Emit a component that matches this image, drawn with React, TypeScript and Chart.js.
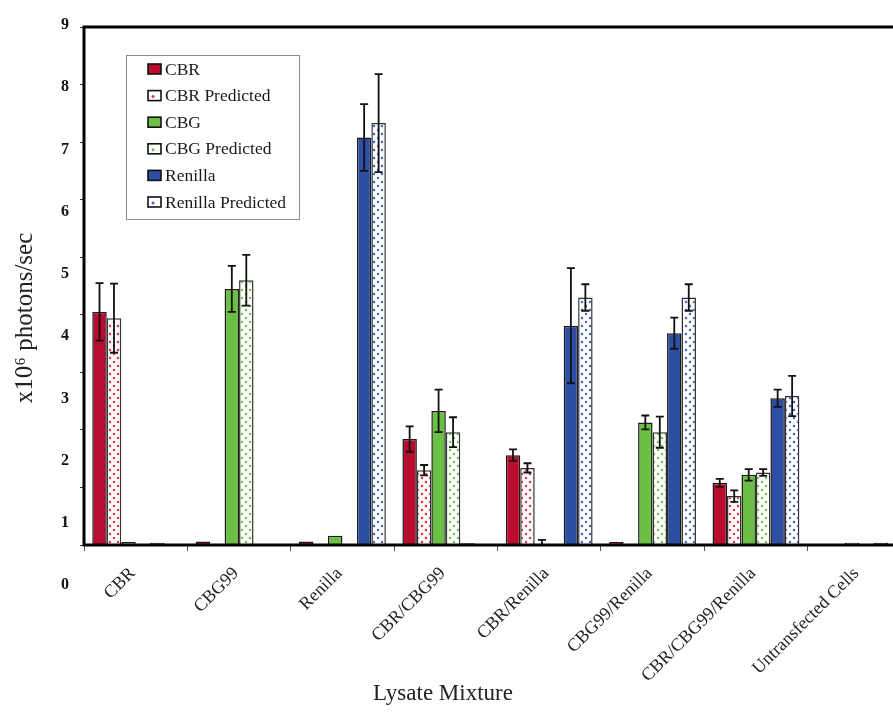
import React, { useEffect, useRef } from 'react';
import { Chart, registerables } from 'chart.js';

Chart.register(...registerables);

const categories = [
  'CBR',
  'CBG99',
  'Renilla',
  'CBR/CBG99',
  'CBR/Renilla',
  'CBG99/Renilla',
  'CBR/CBG99/Renilla',
  'Untransfected Cells',
];

const seriesLabels = ['CBR', 'CBR Predicted', 'CBG', 'CBG Predicted', 'Renilla', 'Renilla Predicted'];

const cbr = [4.05, 0.06, 0.06, 1.84, 1.56, 0.05, 1.08, null];
const cbrErr = [0.5, 0, 0, 0.22, 0.1, 0, 0.07, 0];
const cbrPred = [3.94, null, null, 1.3, 1.34, null, 0.85, null];
const cbrPredErr = [0.6, 0, 0, 0.09, 0.08, 0, 0.1, 0];
const cbg = [0.05, 4.45, 0.16, 2.33, 0.01, 2.13, 1.22, 0.04];
const cbgErr = [0, 0.4, 0, 0.37, 0.08, 0.12, 0.1, 0];
const cbgPred = [null, 4.6, null, 1.96, null, 1.96, 1.26, null];
const cbgPredErr = [0, 0.44, 0, 0.26, 0, 0.27, 0.06, 0];
const renilla = [0.04, null, 7.08, 0.03, 3.81, 3.68, 2.55, 0.04];
const renillaErr = [0, 0, 0.58, 0, 1.0, 0.27, 0.15, 0];
const renillaPred = [null, null, 7.33, null, 4.3, 4.3, 2.59, null];
const renillaPredErr = [0, 0, 0.85, 0, 0.23, 0.23, 0.35, 0];

const yTickLabels = ['0', '1', '2', '3', '4', '5', '6', '7', '8', '9'];

const yTitle = 'x10\u2076 photons/sec';
const xTitle = 'Lysate Mixture';

const RED = '#BA0C2F';
const GREEN = '#6CBF45';
const BLUE = '#2C4FA3';
const RED_DOT = '#E0363F';
const GREEN_DOT = '#6CC74A';
const BLUE_DOT = '#3F6CCB';

const SERIF = '"Liberation Serif", "Times New Roman", serif';

function makePattern(color: string): CanvasPattern | string {
  const c = document.createElement('canvas');
  c.width = 8;
  c.height = 8;
  const g = c.getContext('2d');
  if (!g) return '#fff';
  g.fillStyle = '#ffffff';
  g.fillRect(0, 0, 8, 8);
  g.fillStyle = color;
  g.beginPath();
  g.arc(2, 2, 1.25, 0, Math.PI * 2);
  g.fill();
  g.beginPath();
  g.arc(6, 6, 1.25, 0, Math.PI * 2);
  g.fill();
  const p = g.createPattern(c, 'repeat');
  return p || '#fff';
}

export default function App() {
  const ref = useRef<HTMLCanvasElement | null>(null);

  useEffect(() => {
    const canvas = ref.current;
    if (!canvas) return;

    const values = [cbr, cbrPred, cbg, cbgPred, renilla, renillaPred];
    const errors = [cbrErr, cbrPredErr, cbgErr, cbgPredErr, renillaErr, renillaPredErr];
    const solid = [RED, null, GREEN, null, BLUE, null];
    const dots = [null, RED_DOT, null, GREEN_DOT, null, BLUE_DOT];

    const fills = values.map((_, i) => (solid[i] ? solid[i] : makePattern(dots[i] as string)));

    const custom = {
      id: 'customDraw',
      afterDatasetsDraw(chart: any) {
        const ctx = chart.ctx;
        const ys = chart.scales.y;
        ctx.save();
        ctx.strokeStyle = '#111';
        ctx.lineWidth = 1.8;
        errors.forEach((errArr, di) => {
          const meta = chart.getDatasetMeta(di);
          meta.data.forEach((bar: any, i: number) => {
            const v = values[di][i];
            const e = errArr[i];
            if (v == null || !e) return;
            const x = bar.x;
            const yt = ys.getPixelForValue(v + e);
            const yb = ys.getPixelForValue(Math.max(0, v - e));
            ctx.beginPath();
            ctx.moveTo(x, yt);
            ctx.lineTo(x, yb);
            ctx.moveTo(x - 4, yt);
            ctx.lineTo(x + 4, yt);
            ctx.moveTo(x - 4, yb);
            ctx.lineTo(x + 4, yb);
            ctx.stroke();
          });
        });
        const a = chart.chartArea;
        ctx.strokeStyle = '#000';
        ctx.lineWidth = 3;
        ctx.strokeRect(a.left, a.top, a.right - a.left, a.bottom - a.top);
        ctx.restore();
      },
      afterDraw(chart: any) {
        const ctx = chart.ctx;
        ctx.save();
        // legend
        const lx = 126, ly = 55, lw = 173, lh = 164;
        ctx.fillStyle = '#fff';
        ctx.fillRect(lx, ly, lw, lh);
        ctx.strokeStyle = '#8a8a8a';
        ctx.lineWidth = 1;
        ctx.strokeRect(lx + 0.5, ly + 0.5, lw, lh);
        ctx.font = '17.5px ' + SERIF;
        ctx.textBaseline = 'middle';
        ctx.textAlign = 'left';
        seriesLabels.forEach((lab, i) => {
          const cy = 69 + i * 26.6;
          const bx = 148, bw = 13, bh = 10;
          if (solid[i]) {
            ctx.fillStyle = solid[i] as string;
            ctx.fillRect(bx, cy - bh / 2, bw, bh);
          } else {
            ctx.fillStyle = '#fff';
            ctx.fillRect(bx, cy - bh / 2, bw, bh);
            ctx.fillStyle = dots[i] as string;
            ctx.beginPath();
            ctx.arc(bx + 5, cy + 1, 1.5, 0, Math.PI * 2);
            ctx.fill();
          }
          ctx.strokeStyle = '#111';
          ctx.lineWidth = 1.6;
          ctx.strokeRect(bx, cy - bh / 2, bw, bh);
          ctx.fillStyle = '#1a1a1a';
          ctx.fillText(lab, 165, cy + 1);
        });
        // axis titles
        ctx.fillStyle = '#222';
        ctx.textAlign = 'center';
        ctx.textBaseline = 'middle';
        ctx.font = '25px ' + SERIF;
        ctx.save();
        ctx.translate(25, 318);
        ctx.rotate(-Math.PI / 2);
        ctx.fillText(yTitle, 0, 0);
        ctx.restore();
        ctx.font = '23px ' + SERIF;
        ctx.fillText(xTitle, 443, 694);
        ctx.restore();
      },
    };

    const chart = new Chart(canvas, {
      type: 'bar',
      data: {
        labels: categories,
        datasets: values.map((vals, i) => ({
          label: seriesLabels[i],
          data: vals,
          backgroundColor: fills[i] as any,
          borderColor: solid[i] ? '#1a1a1a' : '#333',
          borderWidth: 1.5,
          categoryPercentage: 0.84,
          barPercentage: 1.0,
        })),
      },
      options: {
        responsive: false,
        animation: false,
        devicePixelRatio: 1,
        layout: { padding: { top: 27, right: 19, bottom: 0, left: 0 } },
        plugins: {
          legend: { display: false },
          tooltip: { enabled: false },
        },
        scales: {
          x: {
            grid: {
              display: true,
              drawOnChartArea: false,
              drawTicks: true,
              tickLength: 6,
              color: '#555',
              lineWidth: 1,
              offset: true,
            },
            border: { display: false },
            ticks: {
              autoSkip: false,
              minRotation: 45,
              maxRotation: 45,
              padding: 12,
              labelOffset: -3,
              color: '#222',
              font: { family: SERIF, size: 18 },
            },
            afterFit: (s: any) => {
              s.height = 167;
            },
          },
          y: {
            position: 'left',
            weight: 0,
            min: 0,
            max: 9,
            grid: {
              display: true,
              drawOnChartArea: false,
              drawTicks: true,
              tickLength: 4,
              color: '#333',
              lineWidth: 1,
            },
            border: { display: false },
            ticks: { stepSize: 1, display: false },
            afterFit: (s: any) => {
              s.width = 12;
            },
          },
          y2: {
            position: 'left',
            weight: 1,
            type: 'linear',
            bounds: 'data',
            min: 0.643,
            max: 8.97,
            grid: { display: false, drawTicks: false },
            border: { display: false },
            afterBuildTicks: (s: any) => {
              s.ticks = yTickLabels.map((_, i) => ({ value: i }));
            },
            ticks: {
              autoSkip: false,
              padding: 3,
              color: '#111',
              font: { family: SERIF, size: 16, weight: 'bold' },
              callback: (_v: any, i: number) => yTickLabels[i],
            },
            afterFit: (s: any) => {
              s.width = 72;
            },
          },
        } as any,
      },
      plugins: [custom],
    });

    return () => chart.destroy();
  }, []);

  return (
    <div
      style={{
        position: 'absolute',
        left: 0,
        top: 0,
        width: 893,
        height: 712,
        overflow: 'hidden',
        background: '#fff',
      }}
    >
      <canvas ref={ref} width={930} height={712} style={{ display: 'block' }} />
    </div>
  );
}
